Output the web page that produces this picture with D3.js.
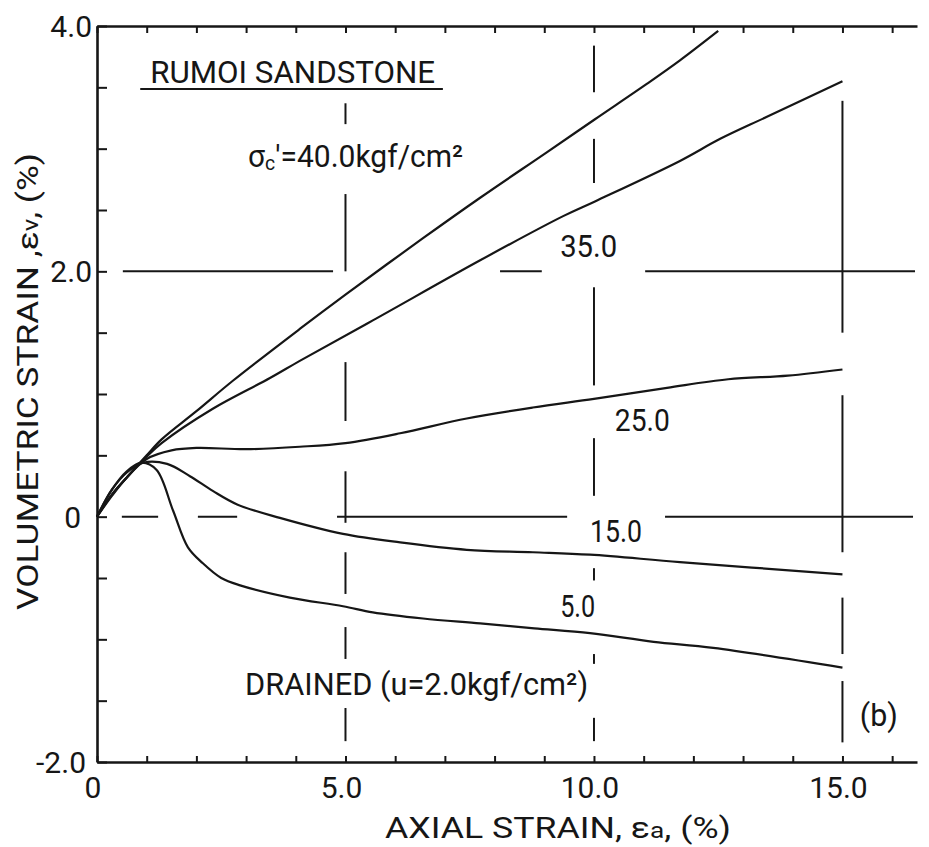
<!DOCTYPE html>
<html><head><meta charset="utf-8">
<script src="https://cdn.jsdelivr.net/npm/d3@7"></script>
<style>
body{margin:0;background:#fff}
svg text{font-family:Roboto,"DejaVu Sans",sans-serif;fill:#161616}
</style>
</head><body>
<svg id="chart" width="929" height="847"></svg>
<script>
// ---- data (axial strain %, volumetric strain %) ----
const curve40 = [[0,0],[0.3,0.18],[0.6,0.32],[1.0,0.5],[1.3,0.63],[2.0,0.86],[2.74,1.11],[4.08,1.53],[5.0,1.81],[6.56,2.27],[7.71,2.6],[9.05,2.97],[10.02,3.24],[11.07,3.53],[11.73,3.72],[12.5,3.96]];
const curve35 = [[0,0],[0.3,0.18],[0.6,0.32],[1.0,0.49],[1.3,0.6],[2.33,0.88],[3.48,1.13],[4.08,1.27],[5.55,1.6],[7.71,2.09],[9.38,2.45],[10.02,2.57],[11.73,2.9],[12.54,3.08],[13.48,3.26],[15.0,3.55]];
const curve25 = [[0,0],[0.3,0.17],[0.6,0.32],[1.0,0.47],[1.5,0.54],[2.0,0.56],[3.0,0.55],[4.08,0.57],[5.0,0.6],[6.1,0.68],[7.44,0.8],[8.77,0.89],[10.0,0.96],[11.47,1.05],[12.7,1.12],[13.9,1.15],[15.0,1.2]];
const curve15 = [[0,0],[0.3,0.22],[0.6,0.36],[0.93,0.44],[1.41,0.43],[1.87,0.33],[2.33,0.21],[2.82,0.1],[3.68,-0.01],[4.95,-0.14],[6.1,-0.21],[7.44,-0.27],[8.77,-0.29],[9.92,-0.31],[11.73,-0.37],[15.0,-0.47]];
const curve5  = [[0,0],[0.3,0.22],[0.6,0.37],[0.9,0.44],[1.2,0.38],[1.53,0.05],[1.83,-0.25],[2.13,-0.38],[2.5,-0.5],[2.88,-0.56],[3.88,-0.66],[4.95,-0.73],[5.55,-0.78],[6.56,-0.83],[7.71,-0.87],[8.8,-0.91],[9.92,-0.95],[11.2,-1.02],[12.4,-1.07],[15.0,-1.23]];

// tick values / labels
const xTickVals = [0,5,10,15];
const xTickLabels = ["0","5.0","10.0","15.0"];
const yTickVals = [4,2,0,-2];
const yTickLabels = ["4.0","2.0","0","-2.0"];

// broken dashed reference lines (value, [from,to] segments)
const gridX = [
  {v:5,  segs:[[3.37,3.20],[2.63,2.0],[1.26,0.78],[0.37,-0.05],[-0.29,-0.63],[-0.90,-1.16],[-1.56,-1.83]]},
  {v:10, segs:[[3.84,3.46],[3.08,2.72],[1.87,1.07],[0.64,0.17],[-0.42,-0.52],[-1.12,-1.20],[-1.64,-1.83]]},
  {v:15, segs:[[3.39,1.50],[0.99,-0.29],[-0.66,-1.12],[-1.34,-1.84]]}
];
const gridY = [
  {v:2, segs:[[0.52,4.75],[8.11,8.95],[11.03,16.46]]},
  {v:0, segs:[[0.50,1.23],[2.03,2.82],[4.83,9.46],[11.43,16.42]]}
];

// ---- drawing ----
const svg = d3.select("#chart");
const x = d3.scaleLinear().domain([0,16.5]).range([97,917]);
const y = d3.scaleLinear().domain([-2,4]).range([762,26]);
const ink = "#161616";

// grid segments
gridX.forEach(g => g.segs.forEach(s => {
  svg.append("line").attr("x1",x(g.v)).attr("x2",x(g.v)).attr("y1",y(s[0])).attr("y2",y(s[1]))
    .attr("stroke",ink).attr("stroke-width",2);
}));
gridY.forEach(g => g.segs.forEach(s => {
  svg.append("line").attr("y1",y(g.v)).attr("y2",y(g.v)).attr("x1",x(s[0])).attr("x2",x(s[1]))
    .attr("stroke",ink).attr("stroke-width",2);
}));

// axes
function styleAxis(g){
  g.select(".domain").attr("stroke",ink).attr("stroke-width",2.6);
  g.selectAll(".tick line").attr("stroke",ink).attr("stroke-width",2);
  g.selectAll(".tick text").remove();
}
const intTicks = d3.range(0,17,1);
svg.append("g").attr("transform",`translate(0,${y(-2)})`)
  .call(d3.axisBottom(x).tickValues(intTicks).tickSizeInner(-6).tickSizeOuter(0)).call(styleAxis);
svg.append("g").attr("transform",`translate(0,${y(4)})`)
  .call(d3.axisTop(x).tickValues(intTicks).tickSizeInner(-7).tickSizeOuter(0)).call(styleAxis);
svg.append("g").attr("transform",`translate(${x(0)},0)`)
  .call(d3.axisLeft(y).tickValues(d3.range(-2,4.01,0.5)).tickSizeInner(-10).tickSizeOuter(0)).call(styleAxis);

// curves
const line = d3.line().x(d=>x(d[0])).y(d=>y(d[1])).curve(d3.curveCatmullRom.alpha(0.5));
[curve40,curve35,curve25,curve15,curve5].forEach(c => {
  svg.append("path").datum(c).attr("d",line).attr("fill","none")
    .attr("stroke",ink).attr("stroke-width",2.2).attr("stroke-linejoin","round");
});

// tick labels
xTickVals.forEach((v,i) => {
  svg.append("text").attr("x",x(v)-4).attr("y",798).attr("text-anchor","middle")
    .attr("font-size",30).text(xTickLabels[i]);
});
yTickVals.forEach((v,i) => {
  svg.append("text").attr("x", v===0 ? 81 : (v===-2 ? 86 : 92)).attr("y",y(v)+11)
    .attr("text-anchor","end").attr("font-size",30).text(yTickLabels[i]);
});

// axis titles
const xt = svg.append("text").attr("x",385).attr("y",838).attr("font-size",30)
  .attr("textLength",346).attr("lengthAdjust","spacingAndGlyphs");
xt.append("tspan").text("AXIAL STRAIN, ε");
xt.append("tspan").attr("font-size",22).text("a");
xt.append("tspan").text(", (%)");

const yt = svg.append("text").attr("transform","translate(38,610) rotate(-90)").attr("font-size",30)
  .attr("textLength",457).attr("lengthAdjust","spacingAndGlyphs");
yt.append("tspan").text("VOLUMETRIC STRAIN ,ε");
yt.append("tspan").attr("font-size",22).text("v");
yt.append("tspan").text(", (%)");

// annotations
svg.append("text").attr("x",x(1.07)).attr("y",83).attr("font-size",31)
  .attr("textLength",285).attr("lengthAdjust","spacingAndGlyphs").text("RUMOI SANDSTONE");
svg.append("line").attr("x1",x(0.87)).attr("x2",x(6.96)).attr("y1",89).attr("y2",89)
  .attr("stroke",ink).attr("stroke-width",2);

const sg = svg.append("text").attr("x",x(3.04)).attr("y",167).attr("font-size",31)
  .attr("textLength",215).attr("lengthAdjust","spacingAndGlyphs");
sg.append("tspan").text("σ");
sg.append("tspan").attr("font-size",20).attr("dy",3).text("c");
sg.append("tspan").attr("dy",-3).text("′=40.0kgf/cm²");

const lab = (t,xv,yv,w) => svg.append("text").attr("x",x(xv)).attr("y",y(yv)).attr("font-size",31)
  .attr("textLength",w).attr("lengthAdjust","spacingAndGlyphs").text(t);
lab("35.0",9.32,2.117,57);
lab("25.0",10.42,0.70,55);
lab("15.0",9.92,-0.21,52);
lab("5.0",9.32,-0.82,35);
lab("(b)",15.35,-1.71,38);
lab("DRAINED (u=2.0kgf/cm²)",2.98,-1.45,343);
</script>
</body></html>
